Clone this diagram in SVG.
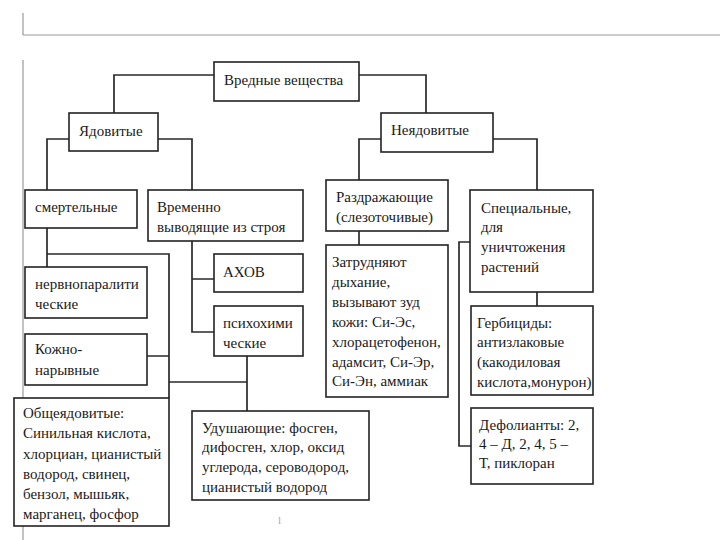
<svg xmlns="http://www.w3.org/2000/svg" width="720" height="540" viewBox="0 0 720 540">
<style>
.bg{fill:#fff}
.box{fill:#fff;stroke:#222;stroke-width:1.6}
.ln{fill:none;stroke:#2a2a2a;stroke-width:1.7}
.frame{fill:none;stroke:#9a9a9a;stroke-width:1.2}
</style>
<rect class="bg" x="0" y="0" width="720" height="540"/>
<g id="frame">
<path class="frame" d="M23 13V35M23 35H720M23 60V540"/>
</g>
<g id="connectors">
<path class="ln" d="M214 75H114V113M359 75H426V113"/>
<path class="ln" d="M69 139H47V190M158 139H192V190"/>
<path class="ln" d="M381 139H359V180M493 139H537V190"/>
<path class="ln" d="M47 228V267M47 254H169V398M147 356H169M169 382H247M247 356V411"/>
<path class="ln" d="M192 241V332H214M192 279H214"/>
<path class="ln" d="M359 231V245"/>
<path class="ln" d="M537 292V306M470 242H459V446H471"/>
</g>
<g id="n-vrednye"><rect class="box" x="214" y="62" width="145" height="39"/><text style="font-family:'Liberation Serif',serif;font-size:15px;fill:#1a1a1a" x="224" y="85">Вредные вещества</text></g>
<g id="n-yadovitye"><rect class="box" x="69" y="113" width="89" height="38"/><text style="font-family:'Liberation Serif',serif;font-size:15px;fill:#1a1a1a" x="79" y="136">Ядовитые</text></g>
<g id="n-neyadovitye"><rect class="box" x="381" y="113" width="112" height="39"/><text style="font-family:'Liberation Serif',serif;font-size:15px;fill:#1a1a1a" x="391" y="135">Неядовитые</text></g>
<g id="n-smertelnye"><rect class="box" x="25" y="190" width="112" height="38"/><text style="font-family:'Liberation Serif',serif;font-size:15px;fill:#1a1a1a" x="35" y="212">смертельные</text></g>
<g id="n-vremenno"><rect class="box" x="148" y="190" width="155" height="51"/><text style="font-family:'Liberation Serif',serif;font-size:15px;fill:#1a1a1a" x="157" y="212">Временно</text><text style="font-family:'Liberation Serif',serif;font-size:15px;fill:#1a1a1a" x="157" y="232">выводящие из строя</text></g>
<g id="n-razdrazh"><rect class="box" x="326" y="180" width="122" height="51"/><text style="font-family:'Liberation Serif',serif;font-size:15px;fill:#1a1a1a" x="336" y="202">Раздражающие</text><text style="font-family:'Liberation Serif',serif;font-size:15px;fill:#1a1a1a" x="336" y="222">(слезоточивые)</text></g>
<g id="n-special"><rect class="box" x="470" y="190" width="123" height="102"/><text style="font-family:'Liberation Serif',serif;font-size:15px;fill:#1a1a1a" x="481" y="213">Специальные,</text><text style="font-family:'Liberation Serif',serif;font-size:15px;fill:#1a1a1a" x="481" y="232">для</text><text style="font-family:'Liberation Serif',serif;font-size:15px;fill:#1a1a1a" x="481" y="252">уничтожения</text><text style="font-family:'Liberation Serif',serif;font-size:15px;fill:#1a1a1a" x="481" y="272">растений</text></g>
<g id="n-nervno"><rect class="box" x="25" y="267" width="122" height="51"/><text style="font-family:'Liberation Serif',serif;font-size:15px;fill:#1a1a1a" x="35" y="289">нервнопаралити</text><text style="font-family:'Liberation Serif',serif;font-size:15px;fill:#1a1a1a" x="35" y="309">ческие</text></g>
<g id="n-kozhno"><rect class="box" x="25" y="334" width="122" height="51"/><text style="font-family:'Liberation Serif',serif;font-size:15px;fill:#1a1a1a" x="35" y="354">Кожно-</text><text style="font-family:'Liberation Serif',serif;font-size:15px;fill:#1a1a1a" x="35" y="375">нарывные</text></g>
<g id="n-ahov"><rect class="box" x="214" y="254" width="89" height="38"/><text style="font-family:'Liberation Serif',serif;font-size:15px;fill:#1a1a1a" x="223" y="277">АХОВ</text></g>
<g id="n-psiho"><rect class="box" x="214" y="306" width="89" height="50"/><text style="font-family:'Liberation Serif',serif;font-size:15px;fill:#1a1a1a" x="223" y="328">психохими</text><text style="font-family:'Liberation Serif',serif;font-size:15px;fill:#1a1a1a" x="223" y="348">ческие</text></g>
<g id="n-zatrud"><rect class="box" x="326" y="245" width="122" height="152"/><text style="font-family:'Liberation Serif',serif;font-size:15px;fill:#1a1a1a" x="332" y="267">Затрудняют</text><text style="font-family:'Liberation Serif',serif;font-size:15px;fill:#1a1a1a" x="332" y="287">дыхание,</text><text style="font-family:'Liberation Serif',serif;font-size:15px;fill:#1a1a1a" x="332" y="307">вызывают зуд</text><text style="font-family:'Liberation Serif',serif;font-size:15px;fill:#1a1a1a" x="332" y="327">кожи: Си-Эс,</text><text style="font-family:'Liberation Serif',serif;font-size:15px;fill:#1a1a1a" x="332" y="347">хлорацетофенон,</text><text style="font-family:'Liberation Serif',serif;font-size:15px;fill:#1a1a1a" x="332" y="367">адамсит, Си-Эр,</text><text style="font-family:'Liberation Serif',serif;font-size:15px;fill:#1a1a1a" x="332" y="386">Си-Эн, аммиак</text></g>
<g id="n-gerbicid"><rect class="box" x="471" y="306" width="122" height="89"/><text style="font-family:'Liberation Serif',serif;font-size:15px;fill:#1a1a1a" x="477" y="328">Гербициды:</text><text style="font-family:'Liberation Serif',serif;font-size:15px;fill:#1a1a1a" x="477" y="347">антизлаковые</text><text style="font-family:'Liberation Serif',serif;font-size:15px;fill:#1a1a1a" x="477" y="367">(какодиловая</text><text style="font-family:'Liberation Serif',serif;font-size:15px;fill:#1a1a1a" x="477" y="387">кислота,монурон)</text></g>
<g id="n-defol"><rect class="box" x="471" y="408" width="122" height="76"/><text style="font-family:'Liberation Serif',serif;font-size:15px;fill:#1a1a1a" x="479" y="430">Дефолианты: 2,</text><text style="font-family:'Liberation Serif',serif;font-size:15px;fill:#1a1a1a" x="479" y="449">4 – Д, 2, 4, 5 –</text><text style="font-family:'Liberation Serif',serif;font-size:15px;fill:#1a1a1a" x="479" y="468">Т, пиклоран</text></g>
<g id="n-obshe"><rect class="box" x="14" y="398" width="155" height="128"/><text style="font-family:'Liberation Serif',serif;font-size:15px;fill:#1a1a1a" x="23" y="418">Общеядовитые:</text><text style="font-family:'Liberation Serif',serif;font-size:15px;fill:#1a1a1a" x="23" y="438">Синильная кислота,</text><text style="font-family:'Liberation Serif',serif;font-size:15px;fill:#1a1a1a" x="23" y="459">хлорциан, цианистый</text><text style="font-family:'Liberation Serif',serif;font-size:15px;fill:#1a1a1a" x="23" y="479">водород, свинец,</text><text style="font-family:'Liberation Serif',serif;font-size:15px;fill:#1a1a1a" x="23" y="499">бензол, мышьяк,</text><text style="font-family:'Liberation Serif',serif;font-size:15px;fill:#1a1a1a" x="23" y="519">марганец, фосфор</text></g>
<g id="n-udush"><rect class="box" x="192" y="411" width="177" height="89"/><text style="font-family:'Liberation Serif',serif;font-size:15px;fill:#1a1a1a" x="202" y="433">Удушающие: фосген,</text><text style="font-family:'Liberation Serif',serif;font-size:15px;fill:#1a1a1a" x="202" y="452">дифосген, хлор, оксид</text><text style="font-family:'Liberation Serif',serif;font-size:15px;fill:#1a1a1a" x="202" y="472">углерода, сероводород,</text><text style="font-family:'Liberation Serif',serif;font-size:15px;fill:#1a1a1a" x="202" y="492">цианистый водород</text></g>
<text style="font-family:'Liberation Serif',serif;font-size:11px;fill:#aaa" x="278" y="524">l</text>
</svg>
